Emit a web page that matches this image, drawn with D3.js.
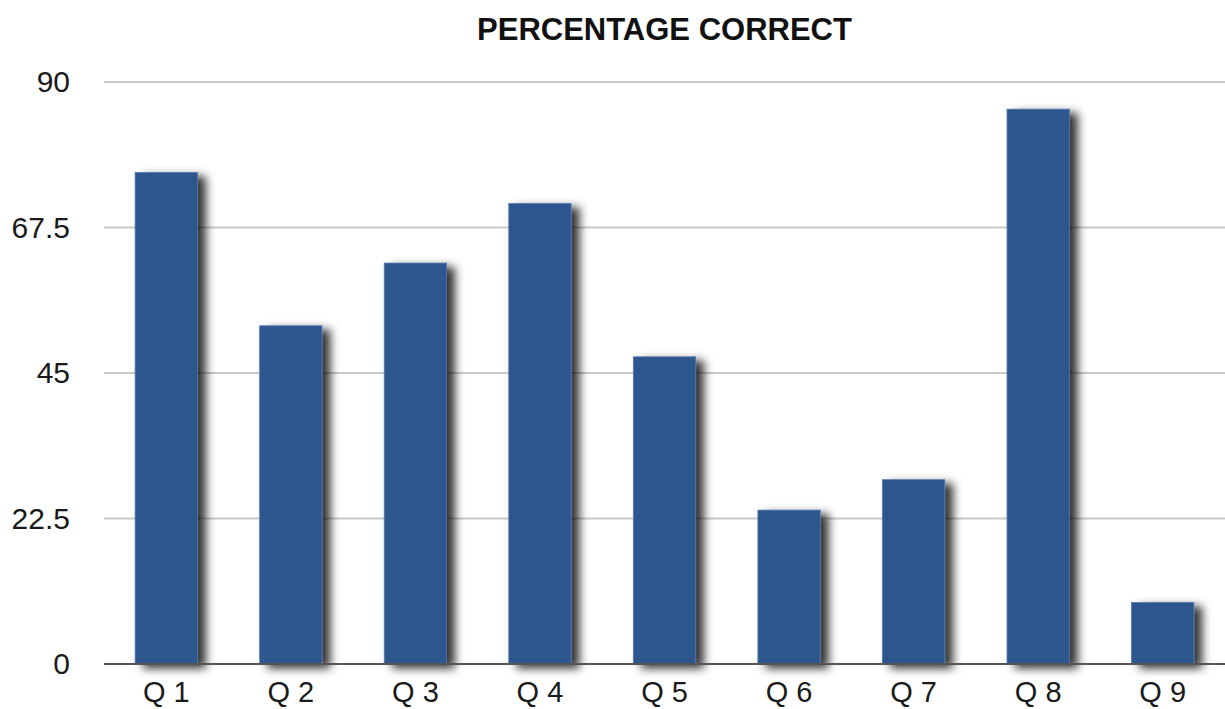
<!DOCTYPE html>
<html>
<head>
<meta charset="utf-8">
<script src="https://cdn.jsdelivr.net/npm/d3@7"></script>
<style>
  body { margin: 0; background: #fff; }
  svg { display: block; font-family: "Liberation Sans", Arial, Helvetica, sans-serif; }
</style>
</head>
<body>
<div id="chart"></div>
<script>
const questions = ['Q 1', 'Q 2', 'Q 3', 'Q 4', 'Q 5', 'Q 6', 'Q 7', 'Q 8', 'Q 9'];
const percentCorrect = [76, 52.3, 62, 71.2, 47.5, 23.8, 28.5, 85.8, 9.5];
const yTicks = [0, 22.5, 45, 67.5, 90];

const width = 1225, height = 709;
const margin = { top: 82, right: 0, bottom: 45, left: 104 };

const svg = d3.select('#chart').append('svg')
  .attr('width', width)
  .attr('height', height);

const defs = svg.append('defs');
const shadow = defs.append('filter').attr('id', 'shadow')
  .attr('x', '-30%').attr('y', '-10%').attr('width', '170%').attr('height', '130%');
shadow.append('feDropShadow')
  .attr('dx', 8).attr('dy', 4)
  .attr('stdDeviation', 5)
  .attr('flood-color', '#000')
  .attr('flood-opacity', 0.8);

const x = d3.scaleBand()
  .domain(questions)
  .range([margin.left, width - margin.right])
  .paddingInner(0.5)
  .paddingOuter(0.25);

const y = d3.scaleLinear()
  .domain([0, 90])
  .range([height - margin.bottom, margin.top]);

// title
svg.append('text')
  .attr('x', (margin.left + width) / 2)
  .attr('y', 40)
  .attr('text-anchor', 'middle')
  .style('font-size', '31px')
  .style('font-weight', 'bold')
  .style('fill', '#111')
  .text('PERCENTAGE CORRECT');

// gridlines
svg.append('g')
  .selectAll('line')
  .data(yTicks.filter(d => d > 0))
  .enter().append('line')
  .attr('x1', margin.left)
  .attr('x2', width)
  .attr('y1', d => y(d))
  .attr('y2', d => y(d))
  .attr('stroke', '#c9c9c9')
  .attr('stroke-width', 2);

// y axis labels
const yAxis = svg.append('g')
  .attr('transform', `translate(${margin.left},0)`)
  .call(d3.axisLeft(y).tickValues(yTicks).tickSize(0).tickPadding(34).tickFormat(d => d));
yAxis.select('.domain').remove();
yAxis.selectAll('text').style('font-size', '30px').style('fill', '#1a1a1a')
  .style('font-family', '"Liberation Sans", Arial, sans-serif');

// bars
svg.append('g')
  .selectAll('rect')
  .data(percentCorrect)
  .enter().append('rect')
  .attr('x', (d, i) => x(questions[i]))
  .attr('y', d => y(d))
  .attr('width', x.bandwidth())
  .attr('height', d => y(0) - y(d))
  .attr('fill', '#2f578e')
  .attr('stroke', '#5377aa')
  .attr('stroke-width', 0.8)
  .attr('filter', 'url(#shadow)');

// x axis
const xAxis = svg.append('g')
  .attr('transform', `translate(0,${y(0)})`)
  .call(d3.axisBottom(x).tickSize(0).tickPadding(17));
xAxis.select('.domain').remove();
xAxis.selectAll('text').style('font-size', '29px').style('fill', '#1a1a1a')
  .style('font-family', '"Liberation Sans", Arial, sans-serif');

svg.append('line')
  .attr('x1', margin.left)
  .attr('x2', width)
  .attr('y1', y(0))
  .attr('y2', y(0))
  .attr('stroke', '#555')
  .attr('stroke-width', 2);
</script>
</body>
</html>
